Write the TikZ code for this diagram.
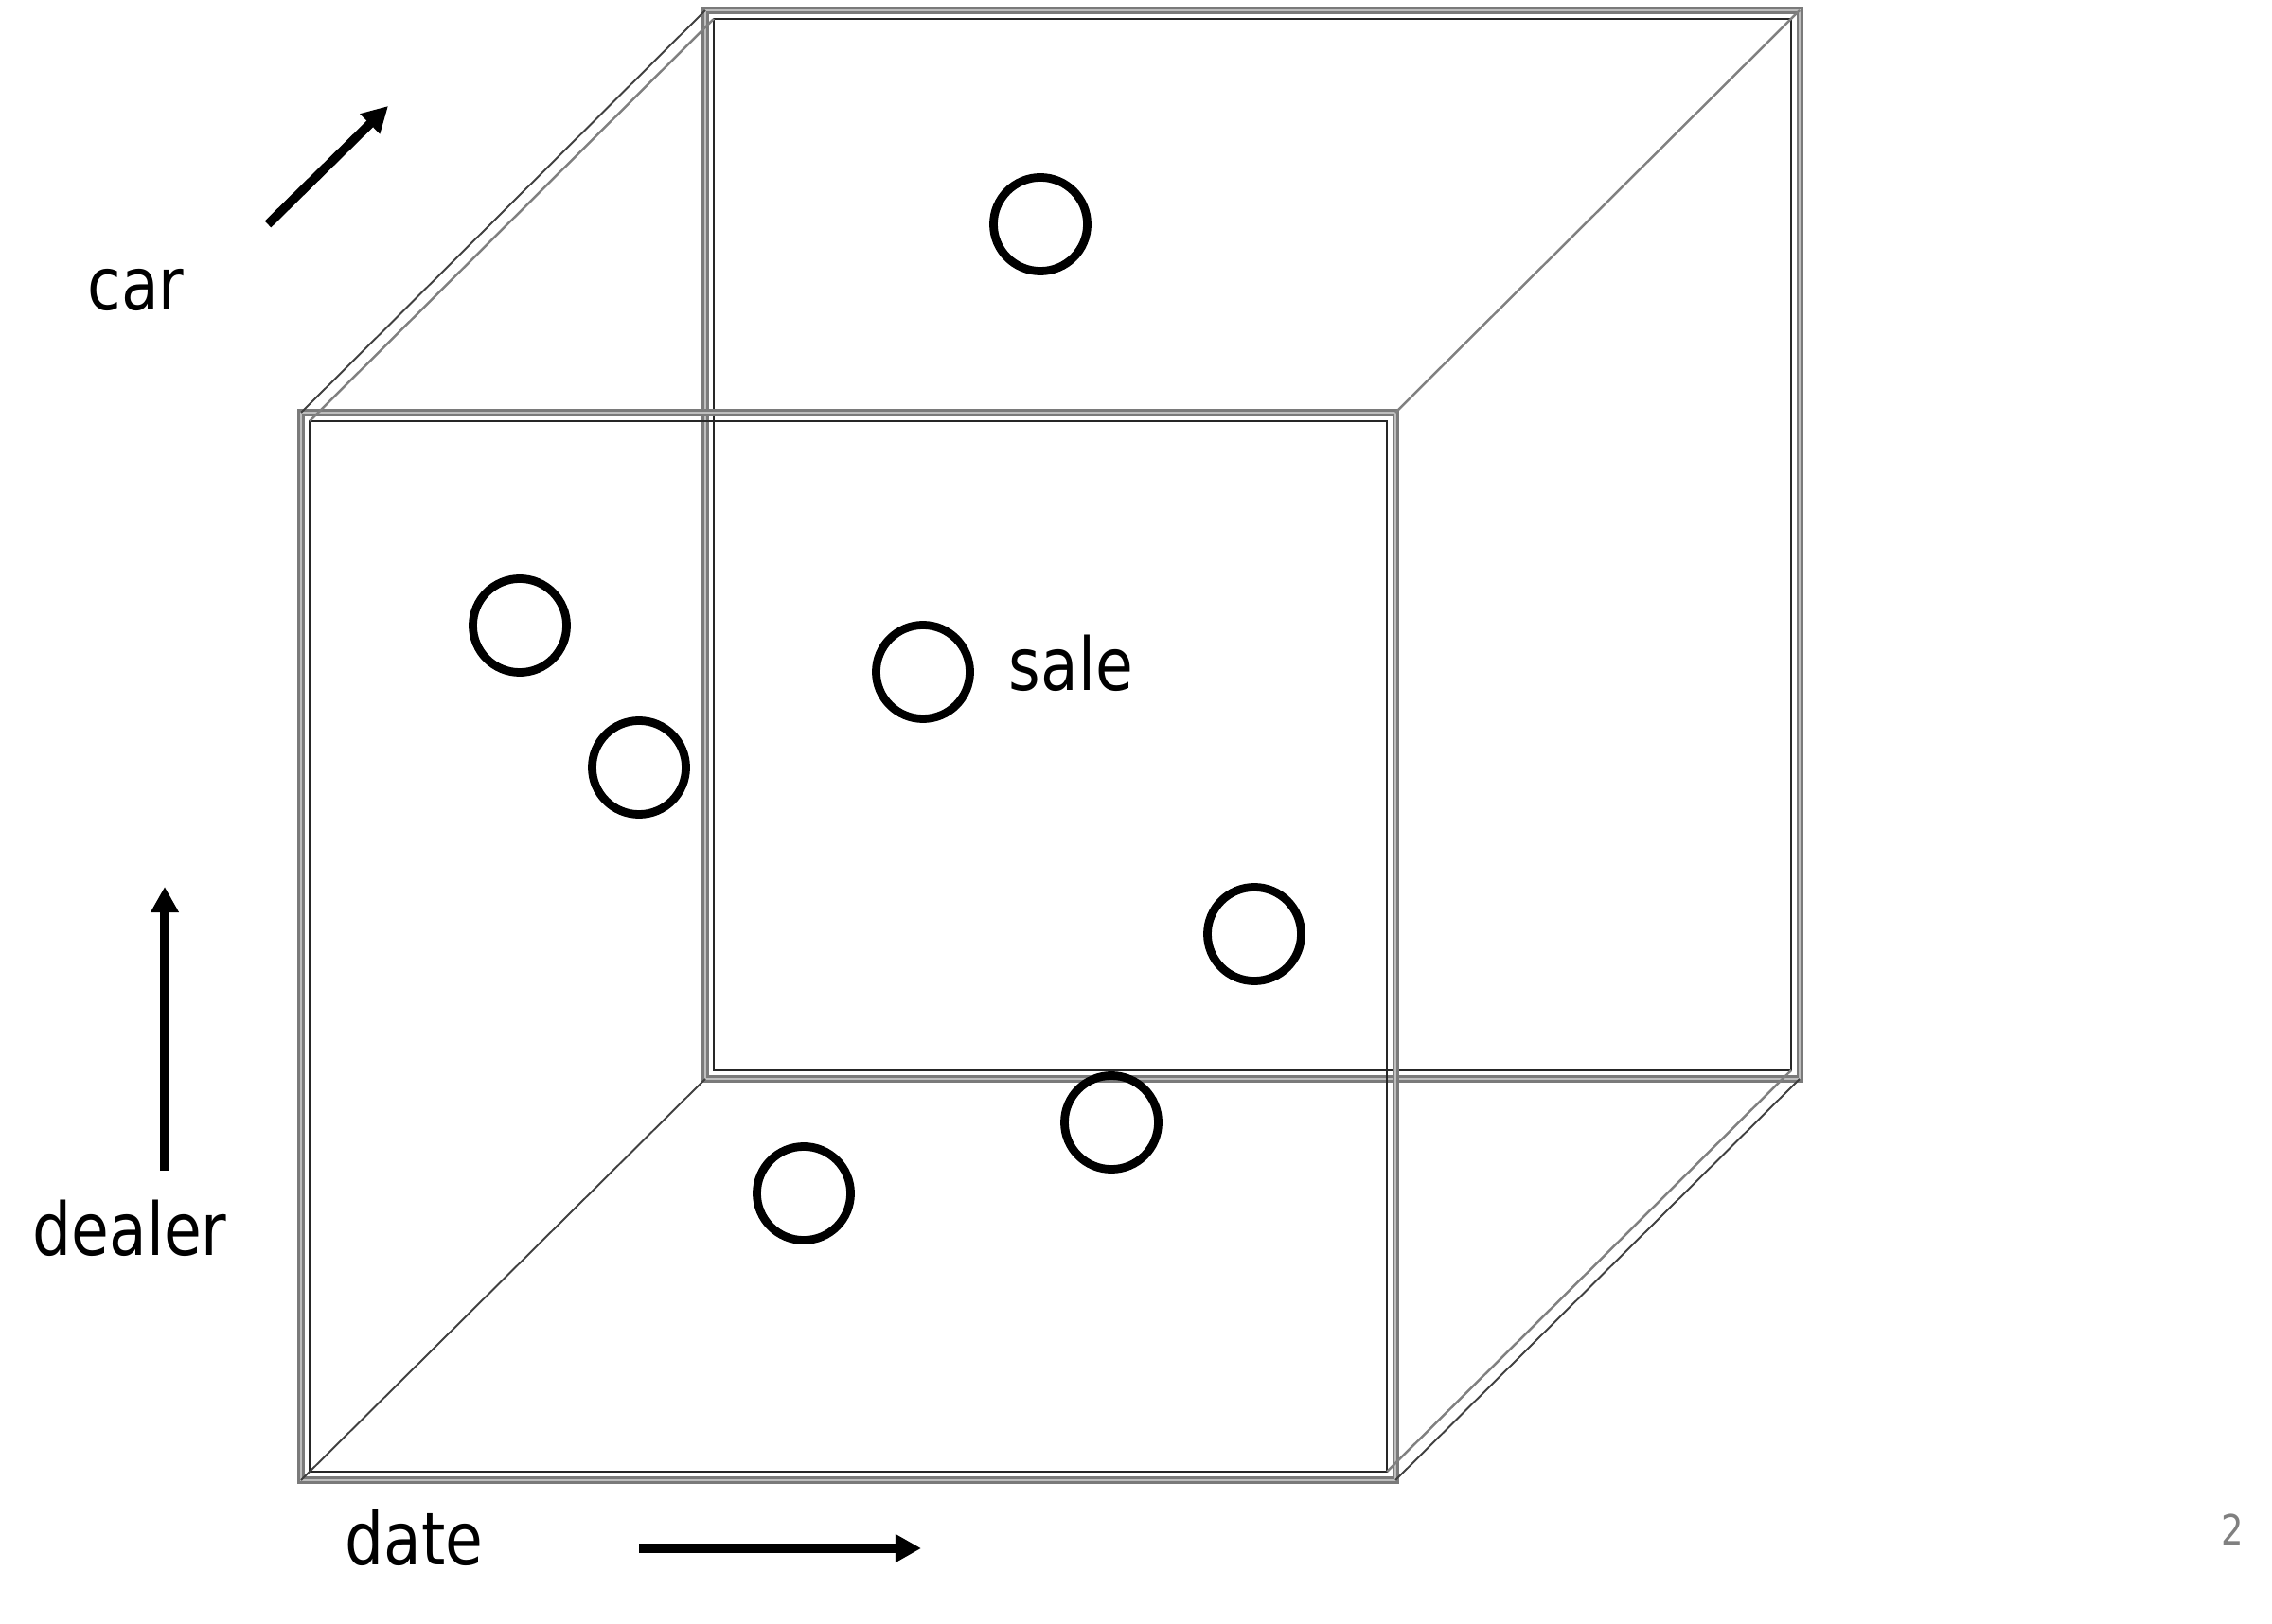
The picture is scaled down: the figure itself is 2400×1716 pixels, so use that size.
\documentclass[tikz,border=0pt]{standalone}
\usepackage{fontspec}
\setmainfont{DejaVu Sans}[FakeStretch=0.84]
\usetikzlibrary{arrows.meta}
\definecolor{rimgray}{HTML}{7A7A7A}
\definecolor{rimlight}{HTML}{BEBEBE}
\definecolor{pagegray}{HTML}{808080}
\tikzset{
  rim/.style={draw=rimgray, double=rimlight, double distance=0.5pt, line width=0.75pt},
  rimin/.style={draw=black!85, line width=0.7pt},
  slant/.style={draw=black!75, line width=0.55pt},
  slantgray/.style={draw=black!50, line width=0.7pt},
  sale/.style={circle, draw=black, line width=2.5pt, minimum size=0.99cm, inner sep=0pt},
  axis/.style={-{Triangle[length=0.27cm,width=0.28cm]}, draw=black, line width=2.7pt},
  dimlbl/.style={font=\fontsize{21.9}{26}\selectfont, inner sep=0pt, anchor=base west},
  pgnum/.style={font=\fontsize{12.5}{15}\selectfont, text=pagegray, inner sep=0pt, anchor=base},
}
\begin{document}
\begin{tikzpicture}[x=0.01cm,y=-0.01cm]
  \useasboundingbox (0,0) rectangle (2400,1716);
  % cube corners
  \coordinate (ftl) at (318,436);  \coordinate (ftr) at (1474,436);
  \coordinate (fbl) at (318,1564); \coordinate (fbr) at (1474,1564);
  \coordinate (btl) at (745,11);   \coordinate (btr) at (1901,11);
  \coordinate (bbl) at (745,1140); \coordinate (bbr) at (1901,1140);
  \coordinate (ftli) at (327,445); \coordinate (fbri) at (1465,1555);
  \coordinate (btli) at (754,20);  \coordinate (bbri) at (1892,1131);
  % back face
  \draw[rim] (btl) rectangle (bbr);
  \draw[rimin] (btli) rectangle (bbri);
  % front face
  \draw[rim] (ftl) rectangle (fbr);
  \draw[rimin] (ftli) rectangle (fbri);
  % receding edges
  \draw[slant] (ftl) -- (btl);
  \draw[slantgray] (ftli) -- (btli);
  \draw[slant] (fbr) -- (bbr);
  \draw[slantgray] (fbri) -- (bbri);
  \draw[slantgray] (ftr) -- (btr);
  \draw[slant] (fbl) -- (bbl);
  % sales
  \node[sale] (s1) at (1099,237) {};
  \node[sale] (s2) at (549,661) {};
  \node[sale] (s3) at (675,811) {};
  \node[sale] (s4) at (975,710) {};
  \node[sale] (s5) at (1325,987) {};
  \node[sale] (s6) at (1174,1186) {};
  \node[sale] (s7) at (849,1261) {};
  \node[dimlbl] (salelbl) at (1065,730) {sale};
  % axes
  \node[dimlbl] (carlbl) at (92,328) {car};
  \coordinate (car0) at (283,237); \coordinate (car1) at (410,112);
  \draw[axis] (car0) -- (car1);
  \node[dimlbl] (dealerlbl) at (34,1326) {dealer};
  \coordinate (dealer0) at (174,1237); \coordinate (dealer1) at (174,937);
  \draw[axis] (dealer0) -- (dealer1);
  \node[dimlbl] (datelbl) at (364,1653) {date};
  \coordinate (date0) at (675,1636); \coordinate (date1) at (973,1636);
  \draw[axis] (date0) -- (date1);
  \node[pgnum] (pg) at (2358,1632) {2};
\end{tikzpicture}
\end{document}
